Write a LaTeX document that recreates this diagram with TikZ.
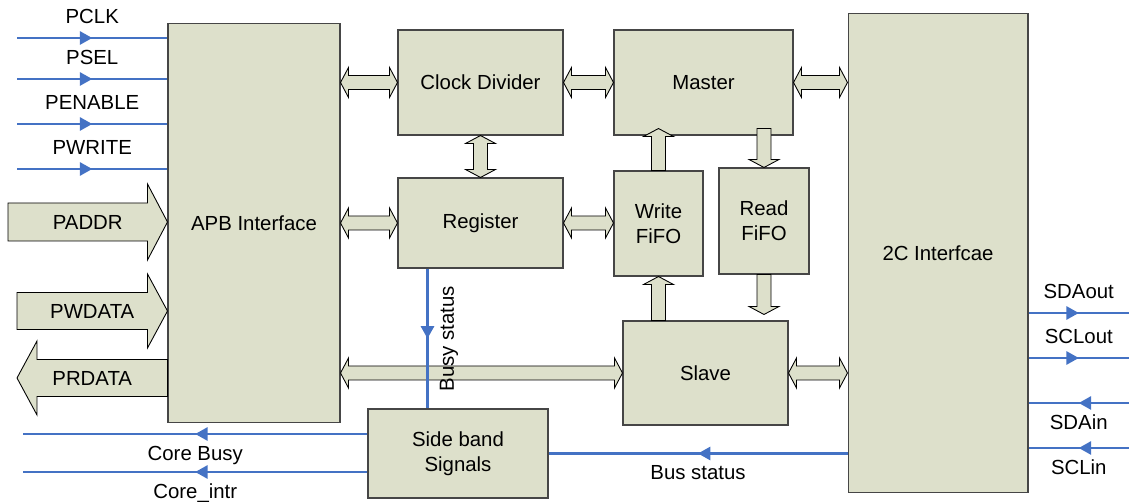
\documentclass[tikz,border=0pt]{standalone}
\usepackage{fontspec}
\setmainfont{Liberation Sans}
\usetikzlibrary{calc, positioning, arrows.meta, decorations.markings}
\definecolor{boxfill}{RGB}{221,224,203}
\definecolor{sigblue}{RGB}{68,114,196}
\definecolor{boxline}{RGB}{70,70,70}
\tikzset{
  block/.style={rectangle, draw=boxline, line width=0.6pt, fill=boxfill, align=center, inner sep=0pt, font=\fontsize{11.6}{14}\selectfont},
  blockarrow/.style={draw=black, line width=0.5pt, fill=boxfill, line join=miter},
  signal/.style={draw=sigblue, line width=1.2pt},
  midarrow/.style={postaction={decorate}, decoration={markings, mark=at position 0.5 with {\arrow[sigblue]{Triangle[length=7pt,width=7.5pt]}}}},
  siglabel/.style={text=black, font=\fontsize{11.6}{14}\selectfont}
}
% sizes of the small block arrows
\newcommand{\ahl}{0.16cm}
\newcommand{\ahw}{0.3cm}
\newcommand{\asw}{0.14cm}
% double block arrow, horizontal (left end, right end)
\newcommand{\hboth}[2]{
  \draw[blockarrow] let \p1=(#1), \p2=(#2) in
    (\x1,\y1) -- (\x1+\ahl,\y1+\ahw) -- (\x1+\ahl,\y1+\asw) -- (\x2-\ahl,\y1+\asw) -- (\x2-\ahl,\y1+\ahw) -- (\x2,\y1)
    -- (\x2-\ahl,\y1-\ahw) -- (\x2-\ahl,\y1-\asw) -- (\x1+\ahl,\y1-\asw) -- (\x1+\ahl,\y1-\ahw) -- cycle;
}
% double block arrow, vertical (two ends)
\newcommand{\vboth}[2]{
  \draw[blockarrow] let \p1=(#1), \p2=(#2), \n1={sign(\y2-\y1)} in
    (\x1,\y1) -- ({\x1+\ahw},{\y1+\n1*\ahl}) -- ({\x1+\asw},{\y1+\n1*\ahl}) -- ({\x1+\asw},{\y2-\n1*\ahl}) -- ({\x1+\ahw},{\y2-\n1*\ahl}) -- (\x1,\y2)
    -- ({\x1-\ahw},{\y2-\n1*\ahl}) -- ({\x1-\asw},{\y2-\n1*\ahl}) -- ({\x1-\asw},{\y1+\n1*\ahl}) -- ({\x1-\ahw},{\y1+\n1*\ahl}) -- cycle;
}
% single block arrow, horizontal (tail, tip, head length, head half width, shaft half width)
\newcommand{\hone}[5]{
  \draw[blockarrow] let \p1=(#1), \p2=(#2), \n1={sign(\x2-\x1)} in
    (\x1,{\y1+#5}) -- ({\x2-\n1*#3},{\y1+#5}) -- ({\x2-\n1*#3},{\y1+#4}) -- (\x2,\y1)
    -- ({\x2-\n1*#3},{\y1-#4}) -- ({\x2-\n1*#3},{\y1-#5}) -- (\x1,{\y1-#5}) -- cycle;
}
% single block arrow, vertical
\newcommand{\vone}[5]{
  \draw[blockarrow] let \p1=(#1), \p2=(#2), \n1={sign(\y2-\y1)} in
    ({\x1+#5},\y1) -- ({\x1+#5},{\y2-\n1*#3}) -- ({\x1+#4},{\y2-\n1*#3}) -- (\x1,\y2)
    -- ({\x1-#4},{\y2-\n1*#3}) -- ({\x1-#5},{\y2-\n1*#3}) -- ({\x1-#5},\y1) -- cycle;
}
\begin{document}
\begin{tikzpicture}[x=0.02cm, y=-0.02cm]
  \useasboundingbox (0,0) rectangle (1129,502);

  % Blocks
  \node[block, minimum width=3.44cm, minimum height=8cm] (apb) at (254,223) {APB Interface};
  \node[block, minimum width=3.3cm, minimum height=2.1cm] (cd) at (480.5,82.5) {Clock Divider};
  \node[block, minimum width=3.58cm, minimum height=2.1cm] (master) at (703.5,82.5) {Master};
  \node[block, minimum width=3.3cm, minimum height=1.8cm] (reg) at (480.5,223) {Register};
  \node[block, minimum width=1.78cm, minimum height=2.1cm] (wfifo) at (658.5,223.5) {Write\\FiFO};
  \node[block, minimum width=1.8cm, minimum height=2.12cm] (rfifo) at (764,221) {Read\\FiFO};
  \node[block, minimum width=3.3cm, minimum height=2.08cm] (slave) at (705.5,373) {Slave};
  \node[block, minimum width=3.6cm, minimum height=1.78cm] (side) at (458,453.5) {Side band\\Signals};
  \node[block, minimum width=3.6cm, minimum height=9.6cm] (i2c) at (938,253) {2C Interfcae};

  % Block arrows between the blocks
  \hboth{apb.east |- cd.west}{cd.west}
  \hboth{cd.east}{master.west}
  \hboth{master.east}{master.east -| i2c.west}
  \hboth{apb.east |- reg.west}{reg.west}
  \hboth{reg.east}{reg.east -| wfifo.west}
  \vboth{cd.south}{reg.north}
  \vone{wfifo.north}{$(wfifo.north |- master.south)+(0,-7)$}{\ahl}{\ahw}{\asw}
  \vone{$(rfifo.north |- master.south)+(0,-7)$}{rfifo.north}{\ahl}{\ahw}{\asw}
  \vone{wfifo.south |- slave.north}{wfifo.south}{\ahl}{\ahw}{\asw}
  \vone{rfifo.south}{$(rfifo.south |- slave.north)+(0,-6)$}{\ahl}{\ahw}{\asw}

  % Busy status (register -> side band)
  \coordinate (busytop) at ($(reg.south west)+(30,0)$);
  \hboth{apb.east |- slave.west}{slave.west}
  \hboth{slave.east}{slave.east -| i2c.west}
  \path (busytop) -- (busytop |- side.north) node[siglabel, midway, rotate=90, anchor=north, inner ysep=6.8pt] (lblbusy) {Busy status};
  \draw[signal, midarrow] (busytop) -- (busytop |- side.north);

  % Bus arrows on the APB side
  \coordinate (paddr) at (8,222);
  \coordinate (pwdata) at (17,311);
  \coordinate (prdata) at (17,378);
  \hone{paddr}{paddr -| apb.west}{0.4cm}{0.76cm}{0.38cm}
  \hone{pwdata}{pwdata -| apb.west}{0.4cm}{0.74cm}{0.37cm}
  \hone{prdata -| apb.west}{prdata}{0.4cm}{0.74cm}{0.37cm}
  \node[siglabel] (lblpaddr) at ($(paddr)!0.5!(paddr -| apb.west)$) {PADDR};
  \node[siglabel] (lblpwdata) at ($(pwdata)!0.5!(pwdata -| apb.west)$) {PWDATA};
  \node[siglabel] (lblprdata) at ($(prdata)!0.5!(prdata -| apb.west)$) {PRDATA};

  % APB control inputs
  \foreach \y/\sig in {38/PCLK, 79/PSEL, 124/PENABLE, 169/PWRITE} {
    \coordinate (in\sig) at (17,\y);
    \draw[signal, midarrow] (in\sig) -- (in\sig -| apb.west) node[siglabel, midway, above=4.4pt] (lbl\sig) {\sig};
  }

  % I2C lines
  \coordinate (rgt) at (1129,0);
  \foreach \y/\sig in {313/SDAout, 358/SCLout} {
    \coordinate (out\sig) at (i2c.east |- 0,\y);
    \draw[signal, midarrow] (out\sig) -- (out\sig -| rgt) node[siglabel, midway, above=4.4pt] (lbl\sig) {\sig};
  }
  \foreach \y/\sig in {403/SDAin, 448/SCLin} {
    \coordinate (in\sig) at (rgt |- 0,\y);
    \draw[signal, midarrow] (in\sig) -- (in\sig -| i2c.east) node[siglabel, midway, below=2.8pt] (lbl\sig) {\sig};
  }

  % Side band outputs
  \coordinate (lft) at (23,0);
  \foreach \dy/\sig/\txt in {-19.5/busy/Core Busy, 18.5/intr/Core\_intr} {
    \coordinate (core\sig) at ($(side.west)+(0,\dy)$);
    \draw[signal, midarrow] (core\sig) -- (core\sig -| lft) node[siglabel, midway, below=2.8pt] (lbl\sig) {\txt};
  }
  \draw[signal, midarrow] (side.east -| i2c.west) -- (side.east) node[siglabel, midway, below=2.8pt] (lblbus) {Bus status};

\end{tikzpicture}
\end{document}
